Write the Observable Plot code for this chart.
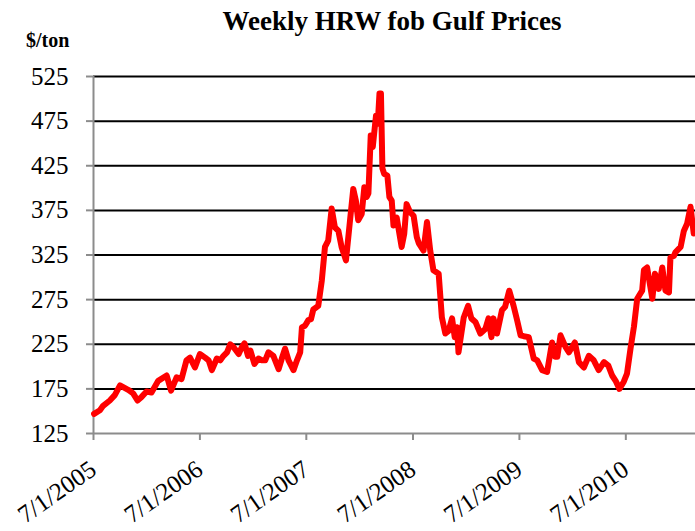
<!DOCTYPE html>
<html>
<head>
<meta charset="utf-8">
<script src="https://cdn.jsdelivr.net/npm/d3@7"></script>
<script src="https://cdn.jsdelivr.net/npm/@observablehq/plot@0.6"></script>
<style>
  html, body { margin: 0; padding: 0; background: #fff; font-family: "Liberation Serif", serif; }
  #wrap { position: relative; width: 695px; height: 531px; }
  #title { position: absolute; left: 392px; top: 8px; transform: translateX(-50%); white-space: nowrap; font-size: 27px; line-height: 26px; font-weight: bold; color: #000; }
  #unit { position: absolute; left: 26px; top: 30px; font-size: 20px; line-height: 20px; font-weight: bold; color: #000; }
  #chart { position: absolute; left: 0; top: 0; }
  #chart svg text { font-family: "Liberation Serif", serif !important; font-weight: normal; }
</style>
</head>
<body>
<div id="wrap">
  <div id="chart"></div>
  <div id="title">Weekly HRW fob Gulf Prices</div>
  <div id="unit">$/ton</div>
</div>
<script>
const dates = [
  "2005-07-03","2005-07-23","2005-08-03","2005-08-26","2005-09-12","2005-09-30","2005-10-28","2005-11-14","2005-11-29","2005-12-13","2005-12-30","2006-01-16","2006-02-08","2006-03-09","2006-03-24","2006-04-12","2006-04-29","2006-05-16","2006-05-28","2006-06-14","2006-07-01",
  "2006-07-19","2006-07-31","2006-08-11","2006-08-28","2006-09-09","2006-09-20","2006-10-02","2006-10-13","2006-10-24","2006-11-11","2006-11-22","2006-12-01","2006-12-13","2006-12-21","2007-01-04","2007-01-18","2007-01-30","2007-02-10","2007-02-21","2007-03-10","2007-03-28","2007-04-08","2007-04-19","2007-05-01","2007-05-18","2007-05-30","2007-06-10","2007-06-16","2007-06-27",
  "2007-07-08","2007-07-17","2007-07-25","2007-08-11","2007-08-23","2007-09-03","2007-09-14","2007-09-26","2007-10-07","2007-10-19","2007-10-30","2007-11-14","2007-11-28","2007-12-09","2007-12-18","2007-12-26","2008-01-07","2008-01-16","2008-01-24","2008-01-30","2008-02-07","2008-02-14","2008-02-25","2008-03-02","2008-03-08","2008-03-13","2008-03-18","2008-03-24","2008-04-04","2008-04-11","2008-04-19","2008-04-25","2008-05-06","2008-05-23","2008-06-01","2008-06-09","2008-06-21","2008-07-03",
  "2008-07-14","2008-07-21","2008-08-06","2008-08-18","2008-08-29","2008-09-09","2008-09-27","2008-10-08","2008-10-20","2008-10-31","2008-11-12","2008-11-21","2008-11-29","2008-12-04","2008-12-22","2009-01-06","2009-01-17","2009-01-31","2009-02-17","2009-03-06","2009-03-17","2009-03-27","2009-04-03","2009-04-15","2009-05-02","2009-05-13","2009-05-27","2009-06-11","2009-06-23",
  "2009-07-05","2009-07-16","2009-08-02","2009-08-19","2009-08-31","2009-09-17","2009-10-04","2009-10-21","2009-10-31","2009-11-08","2009-11-19","2009-12-06","2009-12-18","2010-01-07","2010-01-21","2010-02-07","2010-02-24","2010-03-13","2010-03-30","2010-04-17","2010-05-02","2010-05-15","2010-05-27","2010-06-09","2010-06-24",
  "2010-07-05","2010-07-17","2010-07-29","2010-08-09","2010-08-26","2010-09-01","2010-09-12","2010-09-30","2010-10-09","2010-10-22","2010-11-03","2010-11-14","2010-11-26","2010-12-01","2010-12-13","2010-12-18","2011-01-05","2011-01-16","2011-01-27","2011-02-08","2011-02-19"
];
const prices = [
  147,151,156,162,168,179,174,170,162,166,172,171,184,190,173,188,186,207,210,199,214,
  210,207,196,209,207,212,216,225,222,214,222,226,212,218,203,209,207,207,216,212,197,209,220,207,196,207,216,244,246,
  252,253,264,268,296,334,341,377,356,352,334,319,364,399,386,364,371,401,390,394,459,446,481,472,506,506,422,416,414,390,386,358,367,334,349,382,373,369,
  345,338,330,362,330,308,304,255,237,240,254,233,244,216,255,268,254,250,237,242,254,233,254,237,263,267,285,268,252,
  235,234,233,209,207,196,194,227,211,211,235,222,216,227,205,199,212,207,196,205,201,190,184,175,183,
  192,220,245,276,285,308,311,276,304,287,311,285,283,322,324,328,334,352,360,379,349
];
const yTicks = [125, 175, 225, 275, 325, 375, 425, 475, 525];
const xTickLabels = ["7/1/2005","7/1/2006","7/1/2007","7/1/2008","7/1/2009","7/1/2010"];
const xStart = "2005-07-01";
const xEnd = "2011-02-25";

const data = dates.map((d, i) => ({date: new Date(d + "T00:00:00Z"), price: prices[i]}));
const xTicks = xTickLabels.map(s => { const [m, d, y] = s.split("/").map(Number); return new Date(Date.UTC(y, m - 1, d)); });
const fmt = d => `${d.getUTCMonth() + 1}/${d.getUTCDate()}/${d.getUTCFullYear()}`;
const serif = "Liberation Serif";

const chart = Plot.plot({
  width: 695,
  height: 531,
  marginLeft: 93,
  marginRight: 0,
  marginTop: 76,
  marginBottom: 98,
  x: {type: "utc", domain: [new Date(xStart + "T00:00:00Z"), new Date(xEnd + "T00:00:00Z")]},
  y: {domain: [125, 525]},
  marks: [
    Plot.gridY(yTicks.filter(v => v > 125), {stroke: "#000", strokeOpacity: 1, strokeWidth: 2}),
    Plot.axisY({ticks: yTicks, tickSize: 7, tickPadding: 18, fontSize: 25, fontFamily: serif, stroke: "#8c8c8c", strokeWidth: 2, label: null, tickFormat: d => String(d)}),
    Plot.axisX({ticks: xTicks, tickFormat: fmt, tickSize: 7, tickPadding: 26, tickRotate: -35, fontSize: 25, fontFamily: serif, stroke: "#8c8c8c", strokeWidth: 2, label: null}),
    Plot.ruleX([xTicks[0]], {stroke: "#8c8c8c", strokeWidth: 2}),
    Plot.ruleY([125], {stroke: "#8c8c8c", strokeWidth: 2}),
    Plot.lineY(data, {x: "date", y: "price", stroke: "#ff0000", strokeWidth: 6, strokeLinejoin: "round", strokeLinecap: "round"})
  ]
});
chart.setAttribute("font-family", serif);
chart.style.overflow = "visible";
chart.querySelectorAll("text").forEach(t => { t.setAttribute("font-family", serif); t.style.fontFamily = '"Liberation Serif", serif'; });
document.getElementById("chart").appendChild(chart);
</script>
</body>
</html>
